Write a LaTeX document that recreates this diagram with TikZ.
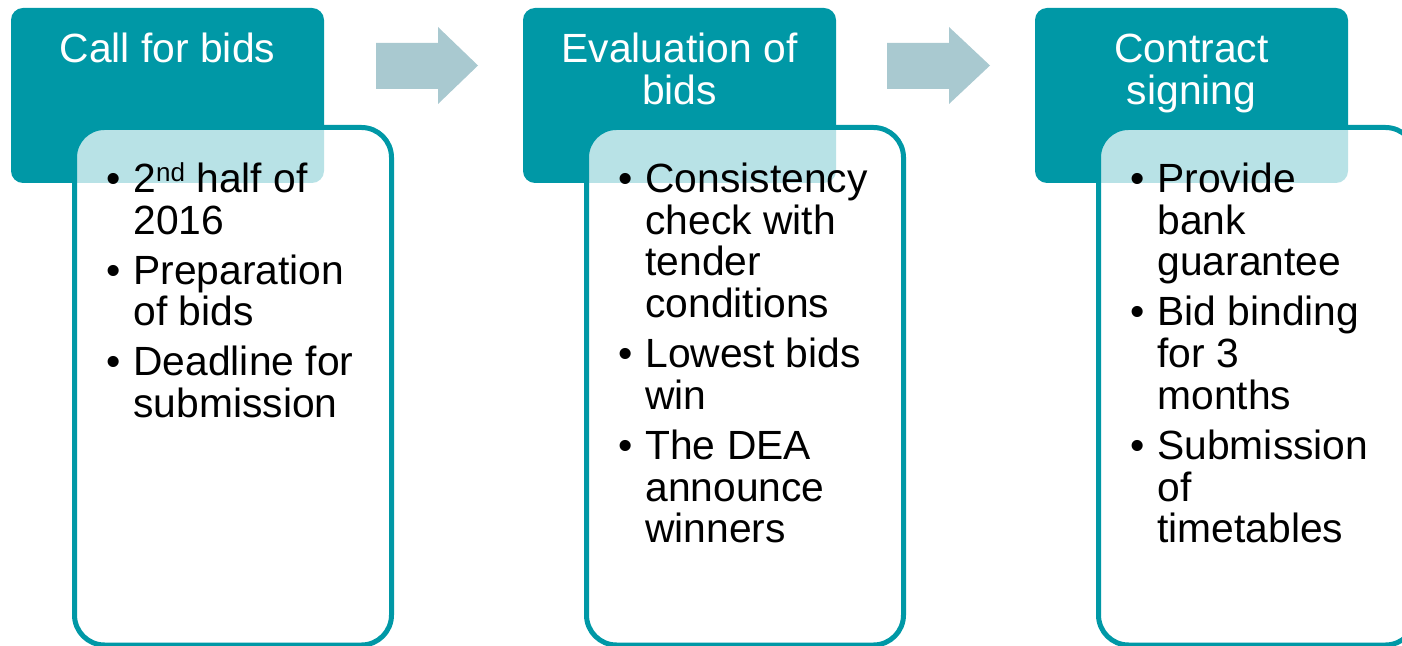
\documentclass[tikz,border=0pt]{standalone}
\usepackage{fontspec}
\setmainfont{Liberation Sans}

\definecolor{hdteal}{RGB}{0,152,166}
\definecolor{arrgrey}{RGB}{169,201,208}

\tikzset{
  headbox/.style={fill=hdteal, rounded corners=6pt},
  bodybox/.style={draw=hdteal, line width=2.5pt, fill=white, fill opacity=0.72, rounded corners=15pt},
  blockarrow/.style={fill=arrgrey},
  headtxt/.style={anchor=north, inner sep=0pt, align=center, text=white,
    font=\fontsize{20.4}{20.85}\selectfont},
  bodytxt/.style={anchor=north west, inner sep=0pt, align=left,
    font=\fontsize{20.4}{20.85}\selectfont},
}
% first line strut, bullet and small raised ordinal
\newcommand{\fl}{\rule{0pt}{16pt}}
\newcommand{\bul}{\llap{\textbullet\hspace{6.5pt}}}
\newcommand{\ordsup}[1]{\raisebox{5.5pt}{\fontsize{13}{13}\selectfont #1}}

\begin{document}
\begin{tikzpicture}[x=0.5pt, y=-0.5pt]
  \useasboundingbox (0,0) rectangle (1402,646);
  \clip (0,0) rectangle (1402,646);

  % block arrows
  \fill[blockarrow] (376,43) -- (438,43) -- (438,27) -- (478,65.5)
    -- (438,104) -- (438,89) -- (376,89) -- cycle;
  \fill[blockarrow] (887,43) -- (949,43) -- (949,27) -- (990,65.5)
    -- (949,104) -- (949,89) -- (887,89) -- cycle;

  % header boxes
  \fill[headbox] (11,8) rectangle (324,183);
  \fill[headbox] (523,8) rectangle (836,183);
  \fill[headbox] (1035,8) rectangle (1348,183);

  % body boxes
  \draw[bodybox] (74.5,127.5) rectangle (391.5,645);
  \draw[bodybox] (586.5,127.5) rectangle (903.5,645);
  \draw[bodybox] (1098.5,127.5) rectangle (1415.5,645);

  % headings
  \node[headtxt] (callT) at (167.5,30) {\fl Call for bids};
  \node[headtxt] (evalT) at (679.5,30) {\fl Evaluation of\\bids};
  \node[headtxt] (signT) at (1191.5,30) {\fl Contract\\signing};

  % bullet lists
  \node[bodytxt] (callL) at (133,160) {\fl\bul 2\ordsup{nd} half of\\2016\\[4.2pt]
    \bul Preparation\\of bids\\[4.2pt]
    \bul Deadline for\\submission};
  \node[bodytxt] (evalL) at (645,160) {\fl\bul Consistency\\check with\\tender\\conditions\\[4.2pt]
    \bul Lowest bids\\win\\[4.2pt]
    \bul The DEA\\announce\\winners};
  \node[bodytxt] (signL) at (1157,160) {\fl\bul Provide\\bank\\guarantee\\[4.2pt]
    \bul Bid binding\\for 3\\months\\[4.2pt]
    \bul Submission\\of\\timetables};
\end{tikzpicture}
\end{document}
